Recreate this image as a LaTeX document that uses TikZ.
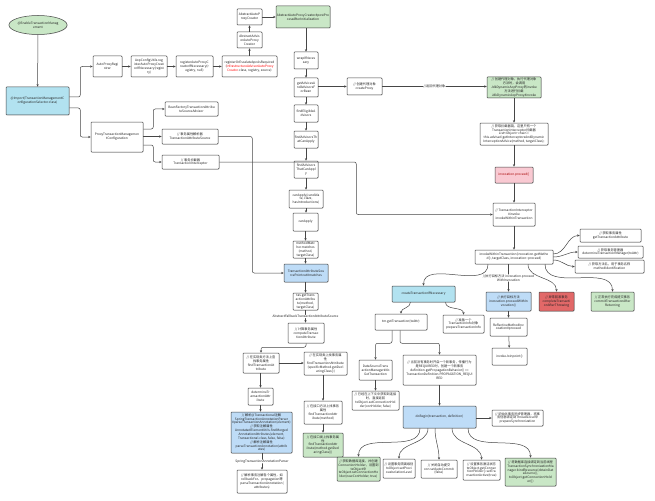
\documentclass[tikz,border=0pt]{standalone}
\usepackage{fontspec}
\setmainfont{Noto Sans CJK SC}
\usetikzlibrary{arrows.meta,shadows,shapes.geometric,calc}
\definecolor{lgreen}{RGB}{201,231,198}
\definecolor{cyanf}{RGB}{178,226,240}
\definecolor{pblue}{RGB}{190,220,247}
\definecolor{pinkf}{RGB}{249,201,210}
\definecolor{redf}{RGB}{226,104,104}
\definecolor{linec}{RGB}{70,70,70}
\definecolor{txtc}{RGB}{35,35,35}
\tikzset{
  box/.style={draw=linec, line width=0.5pt, fill=white, rounded corners=0.8pt,
    inner sep=0.2pt, align=center, text=txtc, font=\fontsize{3.2}{3.85}\selectfont,
    drop shadow={shadow xshift=0.5pt,shadow yshift=-0.5pt,opacity=0.25}},
  gbox/.style={fill=lgreen},
  cbox/.style={fill=cyanf},
  bbox/.style={fill=pblue},
  arr/.style={draw=linec, line width=0.5pt, -{Stealth[length=2.6pt,width=2.2pt]}, rounded corners=2pt},
  lbl/.style={fill=white, inner sep=0.3pt, align=center, text=txtc, font=\fontsize{3.2}{3.85}\selectfont},
}
\newcommand{\bx}[7][]{\node[box,#1,minimum width={(#5-#3)*1pt},minimum height={(#6-#4)*1pt}] (#2) at ({(#3+#5)/2},{(#4+#6)/2}) {#7};}
\begin{document}
\begin{tikzpicture}[x=1pt,y=-1pt]
\useasboundingbox[fill=white] (0,0) rectangle (655,500);
% ---- left / top part
\node[box,ellipse,fill=lgreen,minimum width=50pt,minimum height=19pt] (en) at (38,25) {@EnableTransactionManag\\ement};
\bx[cbox]{imp}{6}{87}{69}{115}{@Import(TransactionManagementC\\onfigurationSelector.class)}
\bx{apr}{93}{56}{122}{77}{AutoProxyRegi\\strar}
\bx{acu}{131}{56}{167}{77}{AopConfigUtils.reg\\isterAutoProxyCreat\\orIfNecessary(regist\\ry)}
\bx{rapc}{176}{56}{213}{77}{registerAutoProxyC\\reatorIfNecessary(r\\egistry, null)}
\bx{reg}{222}{56}{277}{77}{registerOrEscalateApcAsRequired\\(\textcolor{red}{InfrastructureAdvisorAutoProxy}\\\textcolor{red}{Creator}.class, registry, source)}
\bx{aaapc}{237}{32}{262}{48}{AbstractAdvis\\orAutoProxy\\Creator}
\bx{aapc}{237}{9}{262}{25}{AbstractAutoP\\roxyCreator}
\bx[gbox]{gra}{276}{6}{330}{28}{AbstractAutoProxyCreator\#postPro\\cessAfterInitialization}
\bx{wrap}{294}{52}{318}{69}{wrapIfNeces\\sary}
\bx{gaa}{294}{78}{318}{97}{getAdvicesA\\ndAdvisorsF\\orBean}
\bx{fea}{294}{105}{318}{122}{findEligibleA\\dvisors}
\bx{fata}{294}{131}{318}{148}{findAdvisorsTh\\atCanApply}
\bx{fatb}{294}{161}{318}{178}{findAdvisors\\ThatCanAppl\\y}
\bx{caa}{289}{190}{323}{208}{canApply(candida\\te, clazz,\\hasIntroductions)}
\bx{cab}{293}{213}{318}{231}{canApply}
\bx{mm}{293}{241}{318}{258}{methodMatc\\her.matches\\(method,\\targetClass)}
\bx[bbox]{pc}{284}{264}{328}{282}{TransactionAttributeSou\\rcePointcut\#matches}
\bx{tas}{293}{293}{318}{310}{tas.getTrans\\actionAttribu\\te(method,\\targetClass)}
\bx{cmp}{288}{323}{324}{343}{// 计算事务属性\\computeTransac\\tionAttribute}
\bx{bza}{243}{353}{279}{373}{// 在实现类方法上查\\找事务属性\\findTransactionAt\\tribute}
\bx{bzb}{304}{352}{347}{375}{// 在实现类上找事务属\\性\\findTransactionAttribute\\(specificMethod.getDecl\\aringClass())}
\bx{det}{248}{388}{273}{405}{determineTr\\ansactionAttr\\ibute}
\bx[bbox]{spp}{231}{412}{292}{453}{// 解析@Transactional注解\\SpringTransactionAnnotationParser\\\#parseTransactionAnnotation(element)\\// 获取注解属性\\AnnotatedElementUtils.findMerged\\AnnotationAttributes(element,\\Transactional.class, false, false)\\// 解析注解属性\\parseTransactionAnnotation(attrib\\utes)}
\bx{pta}{237}{470}{287}{493}{// 解析事务注解各个属性，如\\rollbackFor、propagation等\\parseTransactionAnnotation(\\attributes)}
\bx{bzc}{304}{401}{342}{424}{// 在接口方法上找事务\\属性\\findTransactionAttr\\ibute(method)}
\bx[gbox]{bzd}{303}{433}{343}{457}{// 在接口类上找事务属\\性\\findTransactionAttr\\ibute(method.getDecl\\aringClass())}
\bx{ptmc}{91}{122}{143}{152}{ProxyTransactionManagemen\\tConfiguration}
\bx{bf}{165}{102}{218}{116}{BeanFactoryTransactionAttribu\\teSourceAdvisor}
\bx{tsrc}{162}{129}{218}{144}{// 事务属性解析器\\TransactionAttributeSource}
\bx{ti}{162}{155}{219}{169}{// 事务拦截器\\TransactionInterceptor}
% ---- right part
\bx{cp}{347}{78}{382}{95}{// 创建代理对象\\createProxy}
\bx[gbox]{grb}{487}{77}{541}{98}{// 创建代理对象，执行代理对象\\方法时，会调用\\JdkDynamicAopProxy的invoke\\方法进行拦截\\JdkDynamicAopProxy\#invoke}
\bx{chain}{480}{123}{548}{145}{// 获取拦截器链，这里只有一个\\TransactionInterceptor拦截器\\List<Object> chain =\\this.advised.getInterceptorsAndDynamic\\InterceptionAdvice(method, targetClass);}
\bx[fill=pinkf,text=red!65!black]{pk}{495}{167}{533}{183}{invocation.proceed()}
\bx{tii}{493}{203}{535}{226}{// TransactionInterceptor\\\#invoke\\invokeWithinTransaction}
\bx{iwt}{475}{250}{553}{264}{invokeWithinTransaction(invocation.getMetho\\d(), targetClass, invocation::proceed)}
\bx{ra}{580}{229}{641}{242}{// 获取事务属性\\getTransactionAttribute}
\bx{rb}{578}{246}{643}{258}{// 获取事务管理器\\determineTransactionManager(txAttr)}
\bx{rc}{575}{260}{644}{273}{// 获取方法名，用于事务名称\\methodIdentification}
\bx[bbox]{pwi}{486}{292}{531}{311}{// 执行目标方法\\invocation.proceedWithIn\\vocation()}
\bx[fill=redf]{ctat}{539}{292}{574}{311}{// 异常回滚事务\\completeTransacti\\onAfterThrowing}
\bx[gbox]{ctar}{591}{292}{634}{311}{// 正常执行完成提交事务\\commitTransactionAfter\\Returning}
\bx{refl}{490}{318}{527}{336}{ReflectiveMethodInv\\ocation\#proceed}
\bx{ij}{492}{348}{527}{365}{invokeJoinpoint()}
\bx[cbox]{ctx}{392}{286}{455}{302}{createTransactionIfNecessary}
\bx{tmg}{375}{314}{427}{330}{tm.getTransaction(txAttr)}
\bx{pti}{443}{315}{484}{333}{// 准备一个\\TransactionInfo对象\\prepareTransactionInfo}
\bx{ds}{359}{360}{392}{380}{DataSourceTrans\\actionManager\#do\\GetTransaction}
\bx{exc}{352}{391}{399}{410}{// 已经在上下文中获取到连接\\时，直接返回\\txObject.setConnectionHol\\der(conHolder, false)}
\bx{newt}{403}{355}{476}{385}{// 当前没有事务时开启一个新事务，传播行为\\是REQUIRED时，创建一个新事务\\definition.getPropagationBehavior() ==\\TransactionDefinition.PROPAGATION\_REQUI\\RED}
\bx[bbox]{db}{403}{406}{476}{428}{doBegin(transaction, definition)}
\bx{psy}{492}{410}{543}{426}{// 初始化事务同步管理器，将事\\务信息绑定到ThreadLocal中\\prepareSynchronization}
\bx[gbox]{bta}{337}{457}{380}{481}{// 获取数据库连接，并创建\\ConnectionHolder，设置到\\txObject中\\txObject.setConnectionHo\\lder(newConHolder, true)}
\bx{btb}{383}{459}{415}{478}{// 设置事务隔离级别\\txObject.setPrevi\\ousIsolationLevel}
\bx{btc}{421}{460}{457}{478}{// 关闭自动提交\\con.setAutoCommit\\(false)}
\bx{btd}{463}{460}{500}{480}{// 设置事务激活状态\\txObject.getConnec\\tionHolder().setTra\\nsactionActive(true)}
\bx[gbox]{bte}{505}{458}{556}{486}{// 将数据库连接绑定到当前线程\\TransactionSynchronizationMa\\nager.bindResource(obtainDat\\aSource(),\\txObject.getConnectionHold\\er())}
% ---- connectors, left part
\draw[arr] (en) -- (imp);
\draw[arr] ([yshift=4pt]imp.east) -- ++(11,0) |- (apr.west);
\draw[arr] ([yshift=-7pt]imp.east) -- ++(11,0) |- (ptmc.west);
\draw[arr] (apr) -- (acu);
\draw[arr] (acu) -- (rapc);
\draw[arr] (rapc) -- (reg);
\draw[arr] (aaapc.south |- reg.north) -- (aaapc.south);
\draw[arr] (aaapc) -- (aapc);
\draw[arr] (aapc) -- (gra.west |- aapc);
\draw[arr] (wrap.north |- gra.south) -- (wrap.north);
\draw[arr] (wrap) -- (gaa);
\draw[arr] (gaa) -- (fea);
\draw[arr] (fea) -- (fata);
\draw[arr] (fata) -- (fatb);
\draw[arr] (fatb) -- (caa);
\draw[arr] (caa) -- (caa |- cab.north);
\draw[arr] (cab) -- (mm);
\draw[arr] (mm) -- (mm |- pc.north);
\draw[arr] (tas |- pc.south) -- (tas);
\draw[arr] (tas) -- node[lbl]{AbstractFallbackTransactionAttributeSource} (tas |- cmp.north);
\draw[arr] (cmp.south) -- ++(0,4) -| (bza.north);
\draw[arr] (bza.east) -- (bzb.west |- bza.east);
\draw[arr] (det.north |- bza.south) -- (det.north);
\draw[arr] (det.south) -- (det.south |- spp.north);
\draw[arr] (pta.north |- spp.south) -- node[lbl]{SpringTransactionAnnotationParser} (pta.north);
\draw[arr] (bzc.north |- bzb.south) -- (bzc.north);
\draw[arr] (bzc) -- (bzc |- bzd.north);
\draw[arr] ([yshift=8pt]ptmc.east) -- ++(10,0) |- (bf.west);
\draw[arr] (ptmc.east |- tsrc) -- (tsrc.west);
\draw[arr] ([yshift=-8pt]ptmc.east) -- ++(10,0) |- (ti.west);
\draw[arr] (tsrc.east) -- ++(34,0) |- (pc.west);
\draw[arr] (ti.east) -- ++(137,0) |- (tii.west);
% ---- connectors, right part
\draw[arr] (gaa.east |- cp.west) -- (cp.west);
\draw[arr] (cp) -- node[lbl]{//返回代理对象} (grb.west |- cp);
\draw[arr] (grb) -- (chain);
\draw[arr] (chain) -- (pk);
\draw[arr] (pk) -- (tii);
\draw[arr] (tii) -- (iwt);
\draw[arr] ([yshift=3pt]iwt.east) to[out=0,in=180] (ra.west);
\draw[arr] (iwt.east) to[out=0,in=180] (rb.west);
\draw[arr] ([yshift=-3pt]iwt.east) to[out=0,in=180] (rc.west);
\draw[arr] (iwt.south -| pwi) -- node[lbl]{//执行目标方法 invocation.proceed\\WithInvocation} (pwi.north);
\draw[arr] ([xshift=14pt]iwt.south) to[out=-90,in=90] (ctat.north);
\draw[arr] ([xshift=31pt]iwt.south) to[out=-90,in=90] (ctar.north);
\draw[arr] ([xshift=-26pt]iwt.south) to[out=-90,in=90] (ctx.north);
\draw[arr] (pwi) -- (pwi |- refl.north);
\draw[arr] (refl) -- (ij);
\draw[arr] ([xshift=-13pt]ctx.south) to[out=-90,in=90] (tmg.north);
\draw[arr] ([xshift=22pt]ctx.south) to[out=-90,in=90] (pti.north);
\draw[arr] ([xshift=-9pt]tmg.south) -- ++(0,13) -| (ds.north);
\draw[arr] ([xshift=-1pt]tmg.south) -- ++(0,13) -| (newt.north);
\draw[arr] (ds) -- (ds |- exc.north);
\draw[arr] (newt) -- (db);
\draw[arr] (db.east |- psy) -- (psy.west);
\draw[arr] ([xshift=-19.5pt]db.south) to[out=-90,in=90] (bta.north);
\draw[arr] ([xshift=-11.5pt]db.south) to[out=-90,in=90] (btb.north);
\draw[arr] ([xshift=-4.5pt]db.south) to[out=-90,in=90] (btc.north);
\draw[arr] ([xshift=12.5pt]db.south) to[out=-90,in=90] (btd.north);
\draw[arr] ([xshift=28.5pt]db.south) to[out=-90,in=90] (bte.north);
\end{tikzpicture}
\end{document}
